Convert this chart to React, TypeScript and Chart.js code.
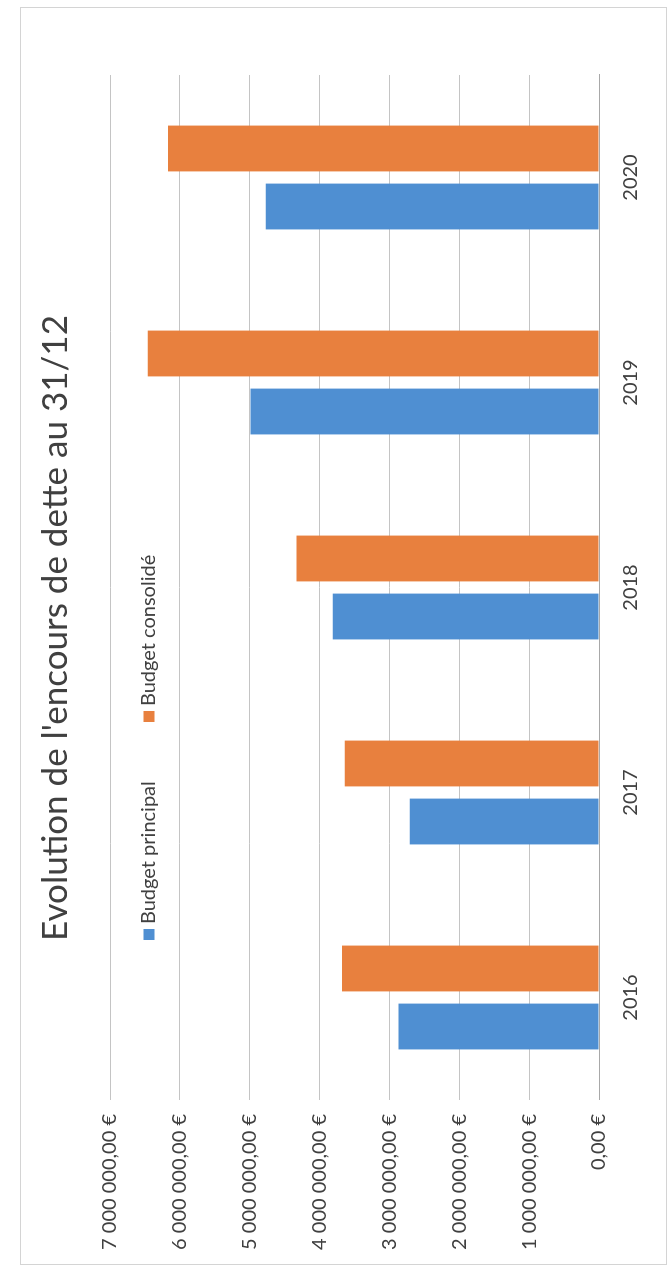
import React, { useEffect, useRef } from "react";
import { Chart, registerables } from "chart.js";

Chart.register(...registerables);

const titleText = "Evolution de l'encours de dette au 31/12";
const categories = ["2016", "2017", "2018", "2019", "2020"];
const seriesNames = ["Budget principal", "Budget consolidé"];
const budgetPrincipal = [2870000, 2710000, 3810000, 4990000, 4770000];
const budgetConsolide = [3680000, 3640000, 4330000, 6460000, 6170000];
const valueMin = 0;
const valueMax = 7000000;
const valueStep = 1000000;
const seriesColors = ["#4f8fd2", "#e8803e"];

// chart drawn in its own (unrotated) frame, then turned a quarter-turn
const W = 1258;
const H = 647;
const FONT = "Lato, 'Open Sans', sans-serif";
const TEXT = "#404040";

function formatEuro(v: number): string {
  const whole = Math.round(v)
    .toString()
    .replace(/\B(?=(\d{3})+(?!\d))/g, " ");
  return whole + ",00 €";
}

const decorPlugin = {
  id: "decor",
  beforeDraw(chart: any) {
    const ctx = chart.ctx;
    ctx.save();
    ctx.fillStyle = "#ffffff";
    ctx.fillRect(0, 0, chart.width, chart.height);
    ctx.strokeStyle = "#d4d4d4";
    ctx.lineWidth = 1;
    ctx.strokeRect(0.5, 0.5, chart.width - 1, chart.height - 1);
    ctx.restore();
  },
  afterDraw(chart: any) {
    const ctx = chart.ctx;
    ctx.save();
    // title
    ctx.fillStyle = TEXT;
    ctx.font = `35px ${FONT}`;
    ctx.textAlign = "center";
    ctx.textBaseline = "middle";
    ctx.fillText(titleText, W / 2 + 8, 36);
    // legend
    ctx.font = `20px ${FONT}`;
    ctx.textAlign = "left";
    const legendStarts = [325, 543];
    const legendY = 129;
    seriesNames.forEach((name, i) => {
      const x = legendStarts[i];
      ctx.fillStyle = seriesColors[i];
      ctx.fillRect(x, legendY - 5.5, 11, 11);
      ctx.fillStyle = TEXT;
      ctx.fillText(name, x + 16, legendY);
    });
    ctx.restore();
  },
};

export default function App() {
  const canvasRef = useRef<HTMLCanvasElement | null>(null);

  useEffect(() => {
    if (!canvasRef.current) return;
    const chart = new Chart(canvasRef.current, {
      type: "bar",
      data: {
        labels: categories,
        datasets: [
          {
            label: seriesNames[0],
            data: budgetPrincipal,
            backgroundColor: seriesColors[0],
            categoryPercentage: 0.566,
            barPercentage: 0.79,
          },
          {
            label: seriesNames[1],
            data: budgetConsolide,
            backgroundColor: seriesColors[1],
            categoryPercentage: 0.566,
            barPercentage: 0.79,
          },
        ],
      },
      options: {
        responsive: false,
        animation: false,
        devicePixelRatio: 1,
        layout: { padding: { left: 0, top: 90, right: 68, bottom: 0 } },
        plugins: {
          legend: { display: false },
          title: { display: false },
          tooltip: { enabled: false },
        },
        scales: {
          x: {
            afterFit: (axis: any) => {
              axis.height = 68;
            },
            grid: { display: false, drawTicks: false },
            border: { display: true, color: "#a8a8a8", width: 1 },
            ticks: {
              padding: 20,
              color: TEXT,
              font: { family: FONT, size: 20 },
            },
          },
          y: {
            min: valueMin,
            max: valueMax,
            afterFit: (axis: any) => {
              axis.width = 165;
            },
            grid: { color: "#c4c4c4", lineWidth: 1, drawTicks: false },
            border: { display: false },
            ticks: {
              stepSize: valueStep,
              padding: 14,
              color: TEXT,
              font: { family: FONT, size: 20 },
              callback: (v: any) => formatEuro(Number(v)),
            },
          },
        },
      },
      plugins: [decorPlugin],
    });
    return () => chart.destroy();
  }, []);

  return (
    <div
      style={{
        position: "fixed",
        left: 20,
        top: 7,
        width: W,
        height: H,
        transformOrigin: "0 0",
        transform: `translate(0px, ${W}px) rotate(-90deg)`,
      }}
    >
      <canvas
        ref={canvasRef}
        width={W}
        height={H}
        style={{ width: W, height: H, display: "block" }}
      />
    </div>
  );
}
